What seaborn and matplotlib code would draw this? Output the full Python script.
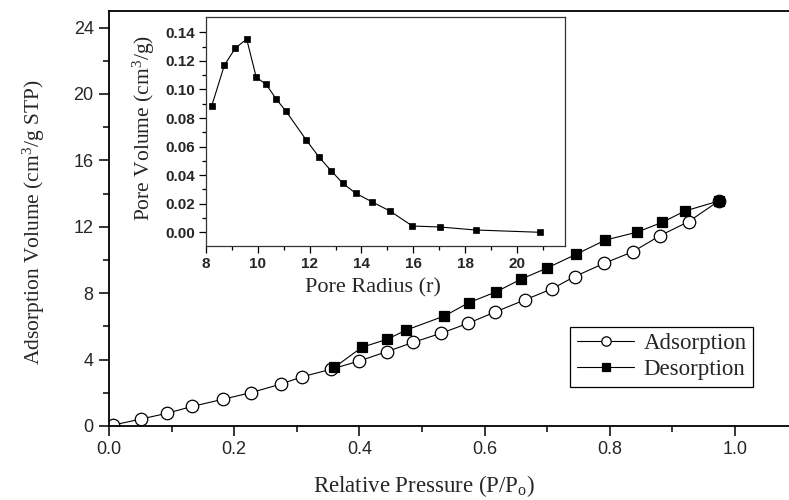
import matplotlib
matplotlib.use("Agg")
import matplotlib.pyplot as plt
import seaborn as sns
import pandas as pd

# ---- data ----
ads_x = [0.007, 0.051, 0.092, 0.133, 0.182, 0.227, 0.275, 0.309, 0.354, 0.400,
         0.444, 0.486, 0.530, 0.574, 0.617, 0.664, 0.707, 0.744, 0.791, 0.837,
         0.880, 0.926, 0.974]
ads_y = [0.06, 0.42, 0.76, 1.18, 1.61, 2.01, 2.53, 2.97, 3.41, 3.92,
         4.48, 5.04, 5.58, 6.19, 6.87, 7.59, 8.25, 9.00, 9.80, 10.50,
         11.46, 12.31, 13.55]
des_x = [0.360, 0.404, 0.444, 0.475, 0.536, 0.575, 0.619, 0.658, 0.699, 0.746,
         0.793, 0.843, 0.884, 0.920, 0.974]
des_y = [3.53, 4.74, 5.22, 5.78, 6.63, 7.43, 8.09, 8.84, 9.50, 10.34,
         11.20, 11.67, 12.27, 12.95, 13.55]

pore_r = [8.22, 8.71, 9.13, 9.57, 9.94, 10.32, 10.71, 11.09, 11.87, 12.37,
          12.83, 13.28, 13.78, 14.40, 15.10, 15.97, 17.03, 18.41, 20.90]
pore_v = [0.0884, 0.1170, 0.1288, 0.1353, 0.1085, 0.1036, 0.0933, 0.0847, 0.0646, 0.0525,
          0.0431, 0.0343, 0.0273, 0.0214, 0.0149, 0.0044, 0.0037, 0.0016, 0.0000]

main_xticks = [0.0, 0.2, 0.4, 0.6, 0.8, 1.0]
main_yticks = [0, 4, 8, 12, 16, 20, 24]
inset_xticks = [8, 10, 12, 14, 16, 18, 20]
inset_yticks = [0.00, 0.02, 0.04, 0.06, 0.08, 0.10, 0.12, 0.14]

sns.set_style("ticks")
plt.rcParams["font.family"] = ["Liberation Sans", "DejaVu Sans"]
plt.rcParams["mathtext.fontset"] = "custom"
plt.rcParams["mathtext.rm"] = "Liberation Serif"
plt.rcParams["mathtext.it"] = "Liberation Serif:italic"
plt.rcParams["mathtext.bf"] = "Liberation Serif:bold"

SERIF = ["Liberation Serif", "DejaVu Serif"]

W, H = 789, 500
fig = plt.figure(figsize=(W / 100, H / 100), dpi=100)

# main axes (pixel geometry)
mx0, mx1, my0, my1 = 109, 797.5, 426, 11
ax = fig.add_axes([mx0 / W, (H - my0) / H, (mx1 - mx0) / W, (my0 - my1) / H])

df_a = pd.DataFrame({"x": ads_x, "y": ads_y})
df_d = pd.DataFrame({"x": des_x, "y": des_y})

sns.lineplot(data=df_a, x="x", y="y", ax=ax, sort=False, estimator=None,
             color="black", lw=0.8, marker="o", markersize=9,
             markerfacecolor="white", markeredgecolor="black", markeredgewidth=0.9,
             label="Adsorption")
sns.lineplot(data=df_d, x="x", y="y", ax=ax, sort=False, estimator=None,
             color="black", lw=0.8, marker="s", markersize=7.5,
             markerfacecolor="black", markeredgecolor="black", markeredgewidth=0.9,
             label="Desorption")

ax.set_xlim(0, 1.1)
ax.set_ylim(0, 25)
ax.set_xticks(main_xticks)
ax.set_xticklabels([f"{v:.1f}" for v in main_xticks])
ax.set_yticks(main_yticks)
ax.set_yticklabels([str(v) for v in main_yticks])
ax.set_xticks([0.1, 0.3, 0.5, 0.7, 0.9], minor=True)
ax.set_yticks([2, 6, 10, 14, 18, 22], minor=True)
ax.tick_params(which="major", direction="out", length=7, width=1.1,
               labelsize=13, color="black", pad=4)
ax.tick_params(which="minor", direction="out", length=4, width=1.1, color="black")
ax.tick_params(top=False, right=False, which="both")
for s in ["left", "bottom", "top"]:
    ax.spines[s].set_linewidth(1.3)
    ax.spines[s].set_color("black")
ax.spines["right"].set_visible(False)

ax.set_xlabel("Relative Pressure (P/P$_{\\mathrm{o}}$)", fontfamily=SERIF, fontsize=16.5)
ax.set_ylabel("Adsorption Volume (cm$^{3}$/g STP)", fontfamily=SERIF, fontsize=15.5)
ax.xaxis.set_label_coords((424 - mx0) / (mx1 - mx0), (my0 - 473) / (my0 - my1))
ax.yaxis.set_label_coords((47 - mx0) / (mx1 - mx0), (my0 - 222) / (my0 - my1))

leg = ax.legend(loc="lower left",
                bbox_to_anchor=((570 - mx0) / (mx1 - mx0), (my0 - 387) / (my0 - my1)),
                borderaxespad=0, numpoints=1, markerscale=0.75,
                handlelength=2.5, handletextpad=0.4, labelspacing=0.2,
                borderpad=0.3, fancybox=False, shadow=False, framealpha=1,
                edgecolor="black", prop={"family": SERIF, "size": 16.5})
leg.get_frame().set_linewidth(0.9)

# inset axes
ix0, ix1, iy0, iy1 = 206, 565, 246, 17.3
axi = fig.add_axes([ix0 / W, (H - iy0) / H, (ix1 - ix0) / W, (iy0 - iy1) / H])
df_p = pd.DataFrame({"r": pore_r, "v": pore_v})
sns.lineplot(data=df_p, x="r", y="v", ax=axi, sort=False, estimator=None,
             color="black", lw=0.8, marker="s", markersize=5,
             markerfacecolor="black", markeredgecolor="black", markeredgewidth=0.5)
axi.set_xlim(8, 21.86)
axi.set_ylim(-0.0096, 0.1505)
axi.set_xticks(inset_xticks)
axi.set_xticklabels([str(v) for v in inset_xticks], fontweight="bold")
axi.set_yticks(inset_yticks)
axi.set_yticklabels([f"{v:.2f}" for v in inset_yticks], fontweight="bold")
axi.set_xticks([9, 11, 13, 15, 17, 19, 21], minor=True)
axi.set_yticks([0.01, 0.03, 0.05, 0.07, 0.09, 0.11, 0.13], minor=True)
axi.tick_params(which="major", direction="out", length=5, width=0.9,
                labelsize=11, color="black", pad=3)
axi.tick_params(which="minor", direction="out", length=3, width=0.9, color="black")
axi.tick_params(top=False, right=False, which="both")
for s in axi.spines.values():
    s.set_linewidth(0.9)
    s.set_color("#333333")
axi.set_xlabel("Pore Radius (r)", fontfamily=SERIF, fontsize=16)
axi.set_ylabel("Pore Volume (cm$^{3}$/g)", fontfamily=SERIF, fontsize=15.5)
axi.xaxis.set_label_coords((372.5 - ix0) / (ix1 - ix0), (iy0 - 278) / (iy0 - iy1))
axi.yaxis.set_label_coords((157 - ix0) / (ix1 - ix0), (iy0 - 128) / (iy0 - iy1))
if axi.get_legend() is not None:
    axi.get_legend().remove()

fig.savefig("out.png", dpi=100)
